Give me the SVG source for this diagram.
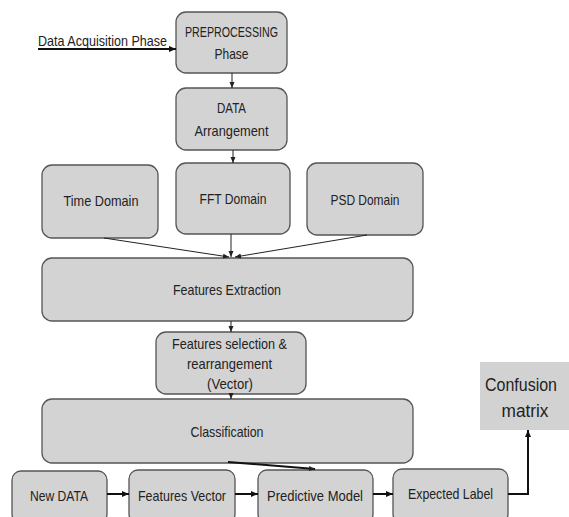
<svg xmlns="http://www.w3.org/2000/svg" width="569" height="517" viewBox="0 0 569 517">
<style>
.box{fill:#d3d3d3;stroke:#555;stroke-width:1.3}
.cm{fill:#d2d2d2;stroke:none}
.t{font-family:"Liberation Sans",Arial,sans-serif;font-size:14.5px;fill:#222;text-anchor:middle}
.big{font-size:17.5px}
.thin{stroke:#222;stroke-width:1;fill:none}
.thick{stroke:#111;stroke-width:2;fill:none}
</style>
<defs>
<marker id="ah" markerUnits="userSpaceOnUse" markerWidth="6" markerHeight="6" refX="6" refY="3" orient="auto">
<path d="M0,0.5 L6,3 L0,5.5 Z" fill="#222"/>
</marker>
<marker id="ahb" markerUnits="userSpaceOnUse" markerWidth="7" markerHeight="7" refX="7" refY="3.5" orient="auto">
<path d="M0,0.5 L7,3.5 L0,6.5 Z" fill="#111"/>
</marker>
</defs>
<g id="preprocessing"><rect class="box" x="176" y="12" width="111" height="61" rx="10"/>
<text class="t" x="231.5" y="37" textLength="93" lengthAdjust="spacingAndGlyphs">PREPROCESSING</text>
<text class="t" x="231.5" y="59" textLength="34" lengthAdjust="spacingAndGlyphs">Phase</text></g>
<g id="data-arrangement"><rect class="box" x="176" y="88" width="111" height="62" rx="10"/>
<text class="t" x="231.5" y="113" textLength="29" lengthAdjust="spacingAndGlyphs">DATA</text>
<text class="t" x="231.5" y="136" textLength="74" lengthAdjust="spacingAndGlyphs">Arrangement</text></g>
<g id="time-domain"><rect class="box" x="42" y="165" width="116" height="73" rx="10"/>
<text class="t" x="101" y="206" textLength="75" lengthAdjust="spacingAndGlyphs">Time Domain</text></g>
<g id="fft-domain"><rect class="box" x="176" y="163" width="114" height="71" rx="10"/>
<text class="t" x="233" y="204" textLength="67" lengthAdjust="spacingAndGlyphs">FFT Domain</text></g>
<g id="psd-domain"><rect class="box" x="307" y="163" width="116" height="72" rx="10"/>
<text class="t" x="365" y="205" textLength="69" lengthAdjust="spacingAndGlyphs">PSD Domain</text></g>
<g id="features-extraction"><rect class="box" x="42" y="258" width="371" height="63" rx="10"/>
<text class="t" x="227" y="295" textLength="108" lengthAdjust="spacingAndGlyphs">Features Extraction</text></g>
<g id="features-selection"><rect class="box" x="156" y="332" width="150" height="62" rx="10"/>
<text class="t" x="229.5" y="349" textLength="115" lengthAdjust="spacingAndGlyphs">Features selection &amp;</text>
<text class="t" x="229.5" y="369" textLength="85" lengthAdjust="spacingAndGlyphs">rearrangement</text>
<text class="t" x="230" y="389" textLength="46" lengthAdjust="spacingAndGlyphs">(Vector)</text></g>
<g id="classification"><rect class="box" x="42" y="399" width="371" height="64" rx="10"/>
<text class="t" x="227" y="437" textLength="73" lengthAdjust="spacingAndGlyphs">Classification</text></g>
<g id="new-data"><rect class="box" x="12" y="471" width="95" height="52" rx="9"/>
<text class="t" x="59" y="501" textLength="58" lengthAdjust="spacingAndGlyphs">New DATA</text></g>
<g id="features-vector"><rect class="box" x="129" y="470" width="106" height="53" rx="9"/>
<text class="t" x="182" y="501" textLength="88" lengthAdjust="spacingAndGlyphs">Features Vector</text></g>
<g id="predictive-model"><rect class="box" x="258" y="470" width="115" height="53" rx="9"/>
<text class="t" x="315" y="501" textLength="96" lengthAdjust="spacingAndGlyphs">Predictive Model</text></g>
<g id="expected-label"><rect class="box" x="393" y="469" width="115" height="54" rx="9"/>
<text class="t" x="450.5" y="499" textLength="85" lengthAdjust="spacingAndGlyphs">Expected Label</text></g>
<g id="confusion-matrix"><rect class="cm" x="480" y="362" width="89" height="68"/>
<text class="t big" x="521" y="391" textLength="72" lengthAdjust="spacingAndGlyphs">Confusion</text>
<text class="t big" x="525" y="417" textLength="47" lengthAdjust="spacingAndGlyphs">matrix</text></g>
<g id="input-label"><text class="t" x="102.5" y="46" textLength="129" lengthAdjust="spacingAndGlyphs">Data Acquisition Phase</text></g>
<g id="connectors">
<line class="thick" x1="38" y1="49" x2="176" y2="49" marker-end="url(#ahb)"/>
<line class="thin" x1="232" y1="73" x2="232" y2="88" marker-end="url(#ah)"/>
<line class="thin" x1="233" y1="150" x2="233" y2="163" marker-end="url(#ah)"/>
<line class="thin" x1="104" y1="238" x2="229" y2="257" marker-end="url(#ah)"/>
<line class="thin" x1="231" y1="234" x2="231" y2="257" marker-end="url(#ah)"/>
<line class="thin" x1="367" y1="235" x2="235" y2="257" marker-end="url(#ah)"/>
<line class="thin" x1="231" y1="321" x2="231" y2="332" marker-end="url(#ah)"/>
<line class="thin" x1="231" y1="394" x2="231" y2="399" marker-end="url(#ah)"/>
<line class="thick" x1="228" y1="462" x2="315" y2="469" stroke-width="1.5" marker-end="url(#ah)"/>
<line class="thick" x1="107" y1="494" x2="129" y2="494" marker-end="url(#ahb)"/>
<line class="thick" x1="235" y1="494" x2="258" y2="494" marker-end="url(#ahb)"/>
<line class="thick" x1="373" y1="494" x2="393" y2="494" marker-end="url(#ahb)"/>
<polyline class="thick" points="508,494 528,494 528,430" marker-end="url(#ahb)"/>
</g>
</svg>
